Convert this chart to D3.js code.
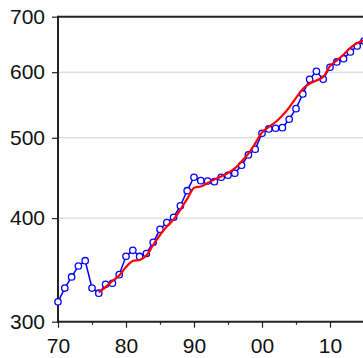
<!DOCTYPE html>
<html>
<head>
<meta charset="utf-8">
<script src="https://cdn.jsdelivr.net/npm/d3@7"></script>
<style>
  body { margin: 0; background: #fff; }
  svg { display: block; font-family: "Liberation Sans", Arial, sans-serif; }
</style>
</head>
<body>
<svg id="chart" width="363" height="358"></svg>
<script>
// years 1970..2015
var years = d3.range(1970, 2016);

// blue series (annual observations)
var actual = [317, 329.4, 339.7, 350.2, 355.4, 329.4, 324.7, 332.8, 333.8, 341.9,
              359.8, 365.8, 359.6, 362.6, 374, 387.8, 395.2, 401, 414, 431.7,
              448.1, 443.9, 443.5, 442.7, 448.1, 450.6, 453.1, 463.3, 476.8, 484.4,
              506.4, 512.5, 513.5, 514.3, 526.5, 542.2, 564.8, 588.3, 601.5, 588.3,
              608.3, 617.3, 622.9, 634.7, 645.3, 654.4];

// red series (smoothed), starts 1976
var trendYears = d3.range(1976, 2016);
var trend = [325.4, 330.3, 335.9, 341.1, 349.2, 355.1, 356.1, 360.6, 371.3, 381.7,
             390.8, 398.5, 409.7, 421.9, 435, 436.8, 441, 445.4, 449.1, 453.5,
             459.2, 468.2, 478.7, 492.3, 507.5, 515.3, 522.5, 532, 544, 558.6,
             572.7, 581.5, 586.3, 592, 610.4, 619.9, 630.3, 641.8, 650.7, 655.3];

var yTicks = [300, 400, 500, 600, 700];
var xMajor = [1970, 1980, 1990, 2000, 2010];
var xMinor = [1975, 1985, 1995, 2005];

var svg = d3.select("#chart");
var plotLeft = 58, plotTop = 16.7, plotBottom = 321.7, plotRight = 400;

var x = d3.scaleLinear().domain([1970, 2015]).range([plotLeft, 364]);
var y = d3.scaleLog().domain([300, 700]).range([plotBottom, plotTop]);

// gridlines
svg.append("g").selectAll("line")
    .data([400, 500, 600])
    .enter().append("line")
    .attr("x1", plotLeft).attr("x2", plotRight)
    .attr("y1", function(d){ return y(d); })
    .attr("y2", function(d){ return y(d); })
    .attr("stroke", "#cfcfcf")
    .attr("stroke-width", 1);

// frame: top line
svg.append("line")
    .attr("x1", plotLeft).attr("x2", plotRight)
    .attr("y1", y(700)).attr("y2", y(700))
    .attr("stroke", "#222").attr("stroke-width", 2);

// y axis
var yAxis = d3.axisLeft(y)
    .tickValues(yTicks)
    .tickFormat(d3.format("d"))
    .tickSize(6)
    .tickPadding(7);
var gy = svg.append("g")
    .attr("transform", "translate(" + plotLeft + ",0)")
    .call(yAxis);
gy.select(".domain").remove();
gy.selectAll(".tick line").attr("stroke", "#222").attr("stroke-width", 1.2);
gy.selectAll(".tick text").attr("font-size", 21).attr("fill", "#111")
    .attr("font-family", "Liberation Sans, Arial, sans-serif");

// x axis major
var xAxis = d3.axisBottom(x)
    .tickValues(xMajor)
    .tickFormat(function(d){ return d3.format("02d")(d % 100); })
    .tickSize(6)
    .tickPadding(10);
var gx = svg.append("g")
    .attr("transform", "translate(0," + plotBottom + ")")
    .call(xAxis);
gx.select(".domain").remove();
gx.selectAll(".tick line").attr("stroke", "#222").attr("stroke-width", 1.2);
gx.selectAll(".tick text").attr("font-size", 21).attr("fill", "#111")
    .attr("font-family", "Liberation Sans, Arial, sans-serif");

// x axis minor
var gxm = svg.append("g")
    .attr("transform", "translate(0," + plotBottom + ")")
    .call(d3.axisBottom(x).tickValues(xMinor).tickSize(3).tickFormat(""));
gxm.select(".domain").remove();
gxm.selectAll(".tick line").attr("stroke", "#222").attr("stroke-width", 1.2);

// axis lines
svg.append("line")
    .attr("x1", plotLeft).attr("x2", plotLeft)
    .attr("y1", plotTop - 1).attr("y2", plotBottom + 1)
    .attr("stroke", "#222").attr("stroke-width", 2);
svg.append("line")
    .attr("x1", plotLeft - 1).attr("x2", plotRight)
    .attr("y1", plotBottom).attr("y2", plotBottom)
    .attr("stroke", "#222").attr("stroke-width", 2);

// blue line with circles
var blueData = years.map(function(yr, i){ return [yr, actual[i]]; });
svg.append("path")
    .datum(blueData)
    .attr("fill", "none")
    .attr("stroke", "#0000ff")
    .attr("stroke-width", 1.5)
    .attr("d", d3.line()
        .x(function(d){ return x(d[0]); })
        .y(function(d){ return y(d[1]); }));

svg.append("g").selectAll("circle")
    .data(blueData)
    .enter().append("circle")
    .attr("cx", function(d){ return x(d[0]); })
    .attr("cy", function(d){ return y(d[1]); })
    .attr("r", 3.2)
    .attr("fill", "#fff")
    .attr("stroke", "#0000ff")
    .attr("stroke-width", 1.3);

// red smoothed line
var redData = trendYears.map(function(yr, i){ return [yr, trend[i]]; });
svg.append("path")
    .datum(redData)
    .attr("fill", "none")
    .attr("stroke", "#ff0000")
    .attr("stroke-width", 2.2)
    .attr("d", d3.line()
        .curve(d3.curveCatmullRom)
        .x(function(d){ return x(d[0]); })
        .y(function(d){ return y(d[1]); }));
</script>
</body>
</html>
